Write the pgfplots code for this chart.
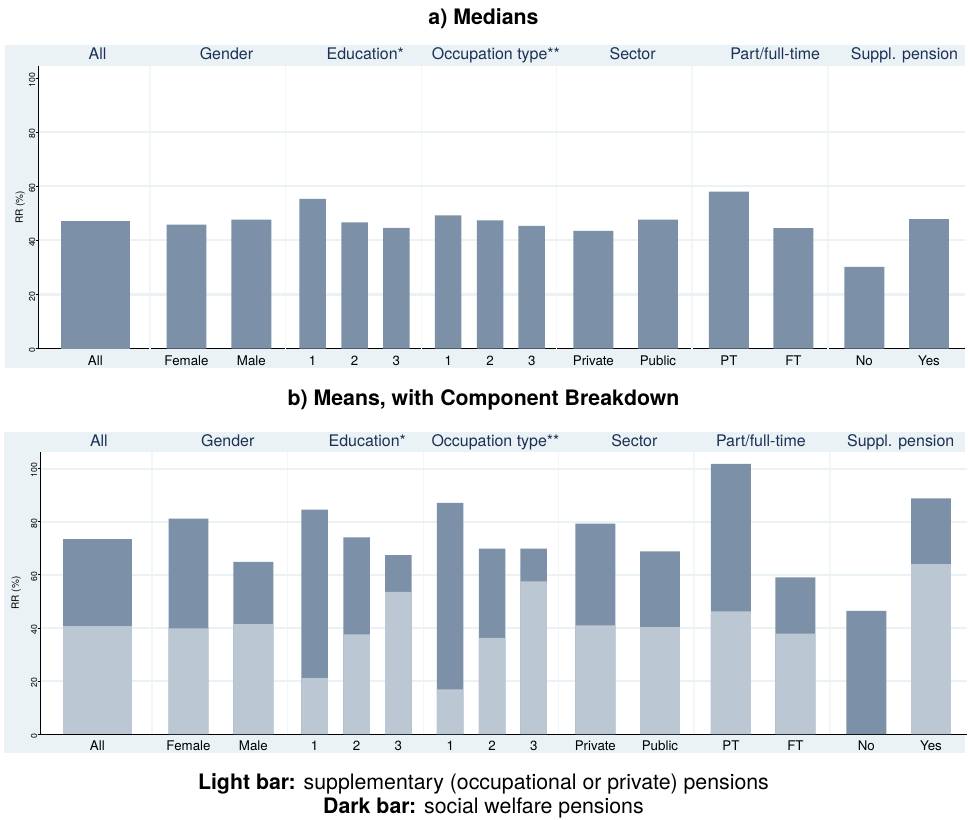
\documentclass[border=0pt]{standalone}
\usepackage{fontspec}
\setmainfont{TeX Gyre Heros}
\usepackage{pgfplots}
\pgfplotsset{compat=1.18}

\definecolor{panelbg}{RGB}{234,242,245}
\definecolor{gridc}{RGB}{234,242,245}
\definecolor{darkbar}{RGB}{124,145,167}
\definecolor{lightbar}{RGB}{187,200,212}
\definecolor{headc}{RGB}{28,48,86}
\definecolor{sepc}{RGB}{243,246,247}

\pgfplotsset{
  rrpanel/.style={
    scale only axis, width=695.25pt,
    xmin=39, xmax=966, ymin=0,
    axis lines*=left,
    axis line style={black, line width=0.8pt},
    /pgf/number format/assume math mode=true,
    ytick={0,20,...,100},
    tick align=outside, major tick length=2.5pt,
    tick style={black, line width=0.6pt},
    xtick={95.5,186.7,251.7,313,355,396.7,448.7,490.7,532.3,594,658.7,729.7,794.3,865.3,930},
    xticklabels={All,Female,Male,1,2,3,1,2,3,Private,Public,PT,FT,No,Yes},
    xtick style={draw=none},
    xticklabel style={font=\fontsize{10}{12}\selectfont, anchor=base, yshift=-10pt},
    yticklabel style={font=\fontsize{6.5}{8}\selectfont, rotate=90, anchor=south, inner sep=0pt, xshift=-1.3pt},
    extra x ticks={150,286,422,557,693,829},
    extra x tick labels={},
    extra x tick style={xmajorgrids=true, major grid style={sepc, line width=1.2pt}},
    extra y tick labels={},
    extra y tick style={ymajorgrids=true, major tick length=0pt, major grid style={gridc, line width=1.6pt}},
    ylabel={RR (\%)},
    every axis y label/.style={at={(rel axis cs:0,0.5)}, anchor=center, rotate=90,
      font=\fontsize{7.5}{9}\selectfont},
  },
  darkbars/.style={ybar, bar shift=0pt, fill=darkbar, draw=none},
  lightbars/.style={ybar, bar shift=0pt, fill=lightbar, draw=none},
}

\begin{document}
\begin{tikzpicture}
\begin{scope}[x=0.75pt, y=-0.75pt]
\path[use as bounding box] (0,0) rectangle (968,820);
% panel backgrounds
\fill[panelbg] (5,45) rectangle (966,368);
\fill[white] (39,66) rectangle (966,349);
\fill[panelbg] (4,432) rectangle (966,754);
\fill[white] (41,452.3) rectangle (968,735);
% titles
\node[anchor=base, font=\bfseries\fontsize{16}{19}\selectfont] at (484,25) {a) Medians};
\node[anchor=base, font=\bfseries\fontsize{16}{19}\selectfont] at (484,406) {b) Means, with Component Breakdown};
% group headers, panel a
\begin{scope}[every node/.style={anchor=base, text=headc, font=\fontsize{12}{14}\selectfont}]
\node at (97.7,60) {All};
\node at (226.7,60) {Gender};
\node at (365.7,60) {Education*};
\node at (496.5,60) {Occupation type**};
\node at (633.3,60) {Sector};
\node at (776,60) {Part/full-time};
\node at (905.5,60) {Suppl. pension};
% group headers, panel b
\node at (99,446.7) {All};
\node at (228,446.7) {Gender};
\node at (367.7,446.7) {Education*};
\node at (496,446.7) {Occupation type**};
\node at (635,446.7) {Sector};
\node at (761.7,446.7) {Part/full-time};
\node at (901.7,446.7) {Suppl. pension};
\end{scope}
% footnote
\node[anchor=base, font=\fontsize{16}{19}\selectfont] at (484,790) {\textbf{Light bar:} supplementary (occupational or private) pensions};
\node[anchor=base, font=\fontsize{16}{19}\selectfont] at (484,814) {\textbf{Dark bar:} social welfare pensions};
\end{scope}

% a) Medians
\begin{axis}[rrpanel, at={(29.25pt,-261.75pt)}, anchor=south west,
  height=212.25pt, ymax=104.5,
  extra y ticks={20,40,60,80},
  every axis y label/.append style={yshift=14pt}]
\addplot[darkbars, bar width=69] coordinates {(95.5,47.0)};
\addplot[darkbars, bar width=40] coordinates {
  (186.7,45.8) (251.7,47.7) (594,43.5) (658.7,47.7)
  (729.7,58.0) (794.3,44.5) (865.3,30.2) (930,47.9)};
\addplot[darkbars, bar width=26.5] coordinates {
  (313,55.4) (355,46.7) (396.7,44.6) (448.7,49.3) (490.7,47.4) (532.3,45.4)};
\end{axis}

% b) Means, total (dark) with supplementary part (light)
\begin{axis}[rrpanel, at={(30.75pt,-551.25pt)}, anchor=south west,
  height=212pt, ymax=106.3,
  extra y ticks={20,40,60,80,100},
  every axis y label/.append style={yshift=18.5pt}]
% totals
\addplot[darkbars, bar width=69] coordinates {(95.5,73.4)};
\addplot[darkbars, bar width=40] coordinates {
  (186.7,81.2) (251.7,64.9) (594,79.3) (658.7,68.8)
  (729.7,101.8) (794.3,59.0) (865.3,46.4) (930,88.8)};
\addplot[darkbars, bar width=26.5] coordinates {
  (313,84.5) (355,74.1) (396.7,67.4) (448.7,87.1) (490.7,69.9) (532.3,69.9)};
% supplementary pensions
\addplot[lightbars, bar width=69] coordinates {(95.5,40.6)};
\addplot[lightbars, bar width=40] coordinates {
  (186.7,39.8) (251.7,41.4) (594,41.0) (658.7,40.3)
  (729.7,46.2) (794.3,37.9) (930,64.0)};
\addplot[lightbars, bar width=26.5] coordinates {
  (313,21.1) (355,37.6) (396.7,53.6) (448.7,16.9) (490.7,36.3) (532.3,57.5)};
\end{axis}
\end{tikzpicture}
\end{document}
